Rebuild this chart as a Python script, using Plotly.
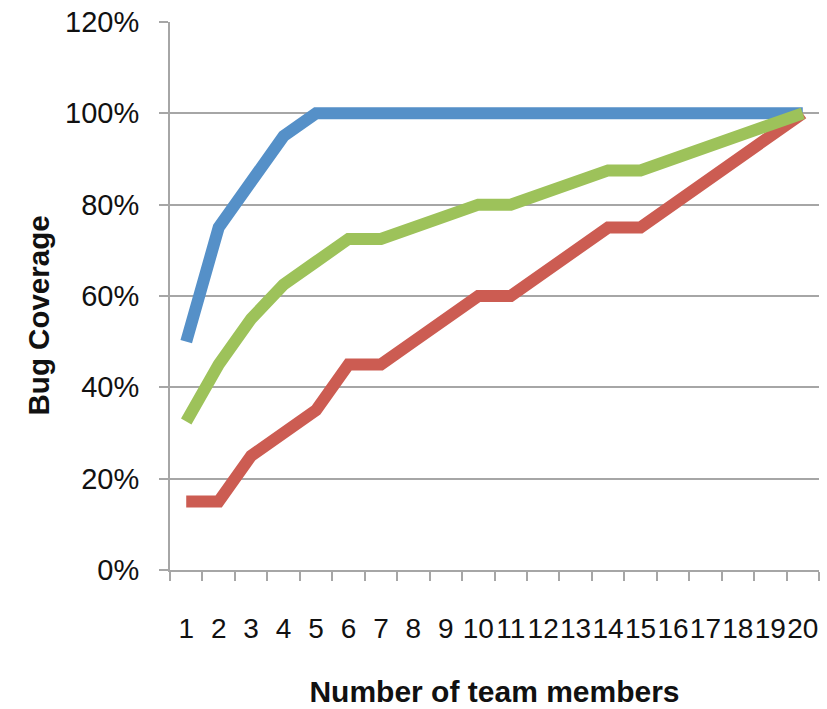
import plotly.graph_objects as go

members = [str(i) for i in range(1, 21)]
series_names = ["Series A", "Series B", "Series C"]
blue_vals = [0.50, 0.75, 0.85, 0.95, 1.00, 1.00, 1.00, 1.00, 1.00, 1.00,
             1.00, 1.00, 1.00, 1.00, 1.00, 1.00, 1.00, 1.00, 1.00, 1.00]
red_vals = [0.15, 0.15, 0.25, 0.30, 0.35, 0.45, 0.45, 0.50, 0.55, 0.60,
            0.60, 0.65, 0.70, 0.75, 0.75, 0.80, 0.85, 0.90, 0.95, 1.00]
green_vals = [0.325, 0.45, 0.55, 0.625, 0.675, 0.725, 0.725, 0.75, 0.775, 0.80,
              0.80, 0.825, 0.85, 0.875, 0.875, 0.90, 0.925, 0.95, 0.975, 1.00]
y_ticks = [0, 0.2, 0.4, 0.6, 0.8, 1.0, 1.2]

colors = ["#5590C8", "#CC5C52", "#9DC25A"]
font_fam = "Liberation Sans, Arial, sans-serif"

fig = go.Figure()
for name, vals, col in zip(series_names, [blue_vals, red_vals, green_vals], colors):
    fig.add_trace(go.Scatter(x=members, y=vals, mode="lines", name=name,
                             line=dict(color=col, width=12)))

fig.update_layout(
    width=827, height=709,
    margin=dict(l=170, r=8, t=22, b=139),
    paper_bgcolor="white", plot_bgcolor="white",
    showlegend=False,
    font=dict(family=font_fam, color="#111111"),
    annotations=[dict(
        text="<b>Bug Coverage</b>", textangle=-90, showarrow=False,
        xref="paper", yref="paper", x=-0.203, y=0.465,
        xanchor="center", yanchor="middle",
        font=dict(size=29.5, family=font_fam, color="#111111"),
    )],
)
fig.update_xaxes(
    type="category", tickson="boundaries", ticks="outside", ticklen=9,
    tickcolor="#A6A6A6", tickwidth=2,
    tickmode="array", tickvals=members, ticktext=members, tickangle=0,
    showline=True, linecolor="#A6A6A6", linewidth=2,
    showgrid=False, range=[-0.5, 19.5], automargin=False,
    tickfont=dict(size=28, family=font_fam),
    ticklabelstandoff=32, ticklabeloverflow="allow",
    title=dict(text="<b>Number of team members</b>", font=dict(size=30, family=font_fam), standoff=38),
)
fig.update_yaxes(
    range=[0, 1.2], tickvals=y_ticks, tickformat=".0%",
    ticks="outside", ticklen=9, tickcolor="#A6A6A6", tickwidth=2,
    showline=True, linecolor="#A6A6A6", linewidth=2,
    showgrid=True, gridcolor="#A6A6A6", gridwidth=2,
    zeroline=False, automargin=False,
    tickfont=dict(size=29, family=font_fam),
    ticklabelstandoff=14, ticklabeloverflow="allow",
)

fig.write_html("out.html",
               config={"displayModeBar": False},
               post_script="document.body.style.margin='0';document.body.style.overflow='hidden';")
